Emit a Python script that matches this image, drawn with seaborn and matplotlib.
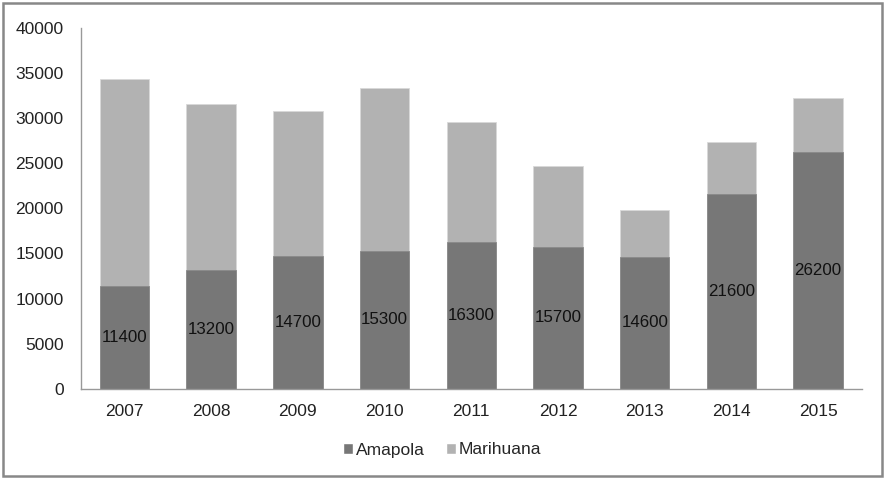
import seaborn as sns
import pandas as pd
import matplotlib.pyplot as plt
from matplotlib.patches import Patch, Rectangle

years = ['2007', '2008', '2009', '2010', '2011', '2012', '2013', '2014', '2015']
amapola = [11400, 13200, 14700, 15300, 16300, 15700, 14600, 21600, 26200]
marihuana = [23000, 18400, 16100, 18100, 13300, 9000, 5200, 5800, 6000]

df = pd.DataFrame({'year': years, 'Amapola': amapola, 'Marihuana': marihuana})
df['total'] = df['Amapola'] + df['Marihuana']

dark = '#777777'
light = '#b2b2b2'

sns.set_style('white')
plt.rcParams['font.family'] = ['Liberation Sans', 'DejaVu Sans']

fig = plt.figure(figsize=(8.85, 4.79), dpi=100)
ax = fig.add_axes([0.0915, 0.1885, 0.882, 0.753])

sns.barplot(data=df, x='year', y='total', color=light, width=0.57,
            saturation=1, edgecolor='#d9d9d9', linewidth=0.6, ax=ax)
sns.barplot(data=df, x='year', y='Amapola', color=dark, width=0.57,
            saturation=1, edgecolor='#8a8a8a', linewidth=0.6, ax=ax)

ax.bar_label(ax.containers[1], labels=[str(v) for v in amapola],
             label_type='center', fontsize=12.2, color='#111111')

ax.set_ylim(0, 40000)
ax.set_yticks(range(0, 40001, 5000))
ax.set_xlim(-0.5, len(years) - 0.5)
ax.set_xlabel('')
ax.set_ylabel('')
ax.tick_params(axis='both', length=0, labelsize=12.5, colors='#222222')
ax.tick_params(axis='y', pad=12.5)
ax.tick_params(axis='x', pad=11)

for side in ['top', 'right']:
    ax.spines[side].set_visible(False)
for side in ['left', 'bottom']:
    ax.spines[side].set_color('#999999')
    ax.spines[side].set_linewidth(1)

handles = [Patch(facecolor=dark, label='Amapola'),
           Patch(facecolor=light, label='Marihuana')]
fig.legend(handles=handles, loc='center', bbox_to_anchor=(0.5, 1 - 450 / 479),
           ncol=2, frameon=False, fontsize=12.5, handlelength=0.55,
           handleheight=0.55, handletextpad=0.2, columnspacing=1.2)

fig.patches.append(Rectangle((3 / 885, 3 / 479), 879 / 885, 473 / 479,
                             transform=fig.transFigure, fill=False,
                             edgecolor='#888888', linewidth=1.8))

fig.savefig('out.png', dpi=100)
